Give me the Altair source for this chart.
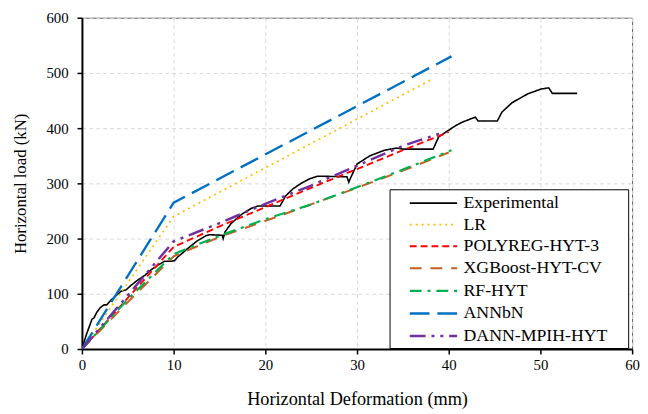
import altair as alt
import pandas as pd

series_names = ["Experimental", "LR", "POLYREG-HYT-3", "XGBoost-HYT-CV",
                "RF-HYT", "ANNbN", "DANN-MPIH-HYT"]
series_colors = ["#000000", "#FFC000", "#FF0000", "#C65F22",
                 "#00B050", "#0070C0", "#7030A0"]
series_dash = [[1, 0], [2, 4], [7, 4], [12, 9], [12, 6, 3, 6], [20, 8],
               [16, 6, 3, 6, 3, 6]]
series_width = [1.6, 2.5, 2.5, 2.5, 2.5, 2.8, 2.8]

exp_x = [0, 0.5, 1.1, 1.3, 1.6, 2.0, 2.4, 2.7, 3.2, 3.8, 4.3, 4.8, 5.4, 6.1,
         6.9, 7.5, 8.3, 9.0, 9.7, 10.1, 10.4, 11.4, 12.5, 13.5, 13.9, 15.3,
         15.4, 15.6, 16.3, 17.5, 18.5, 19.2, 21.6, 22.2, 23.0, 23.9, 24.8,
         25.7, 28.9, 29.1, 29.3, 30.0, 31.4, 33.0, 34.3, 35.0, 38.3, 38.9,
         39.7, 40.8, 41.5, 42.9, 43.2, 45.3, 45.8, 46.9, 48.6, 50.1, 50.9,
         51.3, 54.0]
exp_y = [0, 27, 54, 56, 66, 75, 80, 80, 89, 98, 105, 107, 116, 125,
         134, 143, 152, 159, 159, 160, 166, 180, 195, 205, 207, 206,
         200, 212, 228, 245, 255, 259, 259, 277, 290, 300, 308,
         313, 312, 302, 310, 335, 350, 360, 364, 362, 362, 384,
         393, 405, 411, 420, 413, 413, 429, 446, 462, 471, 473,
         463, 463]

lr_x = [0, 10, 38]
lr_y = [0, 240, 487]

poly_x = [0, 10, 15, 20, 25, 30, 35, 40]
poly_y = [0, 185, 222, 257, 292, 326, 360, 393]

xgb_x = [0, 5, 10, 15, 20, 25, 30, 35, 40]
xgb_y = [0, 85, 168, 203, 232, 262, 292, 323, 356]

rf_x = [0, 5, 10, 15, 20, 25, 30, 35, 40.3]
rf_y = [0, 90, 172, 205, 235, 262, 293, 325, 360]

ann_x = [0, 10, 40.3]
ann_y = [0, 265, 530]

dann_x = [0, 10, 15, 20, 25, 30, 35, 39]
dann_y = [0, 195, 228, 263, 296, 332, 368, 390]

all_x = [exp_x, lr_x, poly_x, xgb_x, rf_x, ann_x, dann_x]
all_y = [exp_y, lr_y, poly_y, xgb_y, rf_y, ann_y, dann_y]

rows = []
for name, xs, ys in zip(series_names, all_x, all_y):
    for i, (xv, yv) in enumerate(zip(xs, ys)):
        rows.append({"series": name, "x": xv, "y": yv, "order": i})
df = pd.DataFrame(rows)

font = "Liberation Serif"

leg = alt.Legend(
    title="__", titleOrient="right", titleOpacity=0, titleFontSize=12,
    titlePadding=6, titleFont=font,
    orient="none", legendX=312, legendY=174,
    strokeColor="#000000", fillColor="#FFFFFF", padding=3,
    symbolType="M-2.4,0H2.4", symbolSize=400, symbolOffset=30,
    labelFont=font, labelFontSize=18, labelColor="#000000",
    labelOffset=19, rowPadding=1.9, labelLimit=300,
)

chart = alt.Chart(df).mark_line(clip=True).encode(
    x=alt.X("x:Q", scale=alt.Scale(domain=[0, 60], nice=False),
            axis=alt.Axis(values=[0, 10, 20, 30, 40, 50, 60], labelFlush=False,
                          title="Horizontal Deformation (mm)", titleFontSize=18.5,
                          titleFont=font, labelFont=font, titlePadding=17)),
    y=alt.Y("y:Q", scale=alt.Scale(domain=[0, 600], nice=False),
            axis=alt.Axis(values=[0, 100, 200, 300, 400, 500, 600], labelFlush=False,
                          title="Horizontal load (kN)", titleFontSize=17,
                          titleFont=font, labelFont=font, titlePadding=17,
                          labelPadding=9)),
    color=alt.Color("series:N", sort=series_names,
                    scale=alt.Scale(domain=series_names, range=series_colors),
                    legend=leg),
    strokeDash=alt.StrokeDash("series:N", sort=series_names,
                              scale=alt.Scale(domain=series_names, range=series_dash),
                              legend=leg),
    strokeWidth=alt.StrokeWidth("series:N", sort=series_names,
                                scale=alt.Scale(domain=series_names, range=series_width),
                                legend=leg),
    detail="series:N",
    order="order:Q",
).properties(
    width=558, height=336,
    padding={"left": 3, "top": 0, "right": 0, "bottom": 0},
).configure(
    font=font,
).configure_view(
    stroke="#595959", strokeWidth=1,
).configure_axis(
    labelFont=font, titleFont=font, labelFontSize=15,
    labelColor="#000000", titleColor="#000000", titleFontWeight="normal",
    domainColor="#000000", domainWidth=2, tickColor="#000000", tickSize=5,
    tickWidth=1.5, labelPadding=4,
    grid=True, gridColor="#D9D9D9", gridDash=[4, 3], gridWidth=1,
)

chart.save("out.html", embed_options={"renderer": "svg", "actions": False})
